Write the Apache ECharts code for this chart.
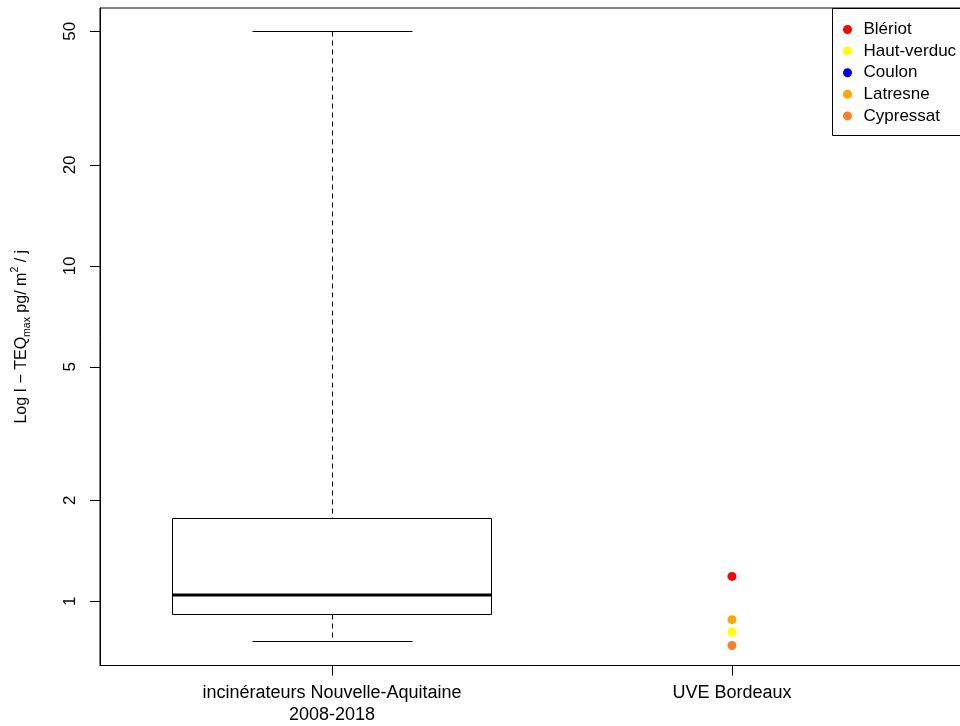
<!DOCTYPE html>
<html>
<head>
<meta charset="utf-8">
<script src="https://cdn.jsdelivr.net/npm/echarts@6/dist/echarts.min.js"></script>
<style>
  html, body { margin: 0; padding: 0; background: #fff; }
  #chart { width: 960px; height: 726px; }
</style>
</head>
<body>
<div id="chart"></div>
<script>
// Groups along the x axis (positions 1 and 2)
const categories = ['incinérateurs Nouvelle-Aquitaine\n2008-2018', 'UVE Bordeaux'];
const categoryPositions = [1, 2];

// Box summary for the regional incinerators: [position, low whisker, Q1, median, Q3, high whisker]
const boxStats = [[1, 0.76, 0.917, 1.042, 1.762, 50]];

// Individual sites measured around UVE Bordeaux (I-TEQ max, pg/m²/j)
const siteNames = ['Blériot', 'Haut-verduc', 'Coulon', 'Latresne', 'Cypressat'];
const siteValues = [1.187, 0.810, null, 0.882, 0.739];
const siteColors = ['#ff0000', '#ffff00', '#0000ff', '#ffa500', '#ff7f24'];

// Y tick labels on the log scale
const yTicks = [1, 2, 5, 10, 20, 50];

const FONT = 'Liberation Sans, Arial, sans-serif';
const chart = echarts.init(document.getElementById('chart'), null, { renderer: 'canvas' });

// snap a 1px line onto the pixel grid
function crisp(v) { return Math.round(v - 0.5) + 0.5; }

const boxSeries = {
  type: 'custom',
  name: 'box',
  data: boxStats,
  encode: { x: 0, y: [1, 2, 3, 4, 5] },
  silent: true,
  z: 2,
  renderItem: function (params, api) {
    const x = api.value(0);
    const low = api.value(1), q1 = api.value(2), med = api.value(3), q3 = api.value(4), high = api.value(5);
    const half = 0.4, capHalf = 0.2;
    const cx = crisp(api.coord([x, q1])[0]);
    const left = crisp(api.coord([x - half, q1])[0]);
    const right = crisp(api.coord([x + half, q1])[0]);
    const capL = crisp(api.coord([x - capHalf, q1])[0]);
    const capR = crisp(api.coord([x + capHalf, q1])[0]);
    const yLow = crisp(api.coord([x, low])[1]);
    const yQ1 = crisp(api.coord([x, q1])[1]);
    const yMed = Math.round(api.coord([x, med])[1]);
    const yQ3 = crisp(api.coord([x, q3])[1]);
    const yHigh = crisp(api.coord([x, high])[1]);
    const solid = { stroke: '#000', lineWidth: 1, fill: null };
    const dashed = { stroke: '#000', lineWidth: 1, lineDash: [5, 4] };
    return {
      type: 'group',
      children: [
        { type: 'line', shape: { x1: cx, y1: yHigh, x2: cx, y2: yQ3 }, style: dashed },
        { type: 'line', shape: { x1: cx, y1: yQ1, x2: cx, y2: yLow }, style: dashed },
        { type: 'line', shape: { x1: capL, y1: yHigh, x2: capR, y2: yHigh }, style: solid },
        { type: 'line', shape: { x1: capL, y1: yLow, x2: capR, y2: yLow }, style: solid },
        { type: 'rect', shape: { x: left, y: yQ3, width: right - left, height: yQ1 - yQ3 }, style: { stroke: '#000', lineWidth: 1, fill: '#fff' } },
        { type: 'line', shape: { x1: left, y1: yMed, x2: right, y2: yMed }, style: { stroke: '#000', lineWidth: 3 } }
      ]
    };
  }
};

const siteSeries = siteNames.map(function (name, i) {
  return {
    type: 'scatter',
    name: name,
    symbol: 'circle',
    symbolSize: 9,
    itemStyle: { color: siteColors[i], opacity: 1 },
    data: siteValues[i] == null ? [] : [[categoryPositions[1], siteValues[i]]],
    z: 3
  };
});

const option = {
  animation: false,
  backgroundColor: '#fff',
  textStyle: { fontFamily: FONT },
  grid: {
    left: 100, top: 8, width: 864, height: 657.5,
    outerBoundsMode: 'none',
    containLabel: false,
    show: true, borderColor: '#000', borderWidth: 1, backgroundColor: 'transparent'
  },
  // frame of the key box, which runs past the right edge like the plot region
  graphic: [{
    type: 'rect',
    left: 832, top: 8,
    shape: { x: 0, y: 0, width: 134, height: 127 },
    style: { fill: '#fff', stroke: '#000', lineWidth: 1 },
    z: 5
  }],
  legend: {
    orient: 'vertical',
    left: 839, top: 8,
    padding: [13, 0, 12, 4],
    itemGap: 4.6,
    itemWidth: 22, itemHeight: 9,
    icon: 'circle',
    z: 10,
    textStyle: { fontSize: 17, color: '#000', fontFamily: FONT },
    data: siteNames
  },
  xAxis: {
    type: 'value',
    min: 0.42, max: 2.58,
    axisLine: { show: true, lineStyle: { color: '#000' } },
    axisTick: { show: true, length: 10, lineStyle: { color: '#000' }, customValues: categoryPositions },
    axisLabel: {
      customValues: categoryPositions,
      formatter: function (v) { return categories[categoryPositions.indexOf(v)] || ''; },
      fontSize: 18, color: '#000', lineHeight: 22, margin: 17, fontFamily: FONT
    },
    splitLine: { show: false }
  },
  yAxis: {
    type: 'log',
    logBase: 10,
    min: 0.644, max: 58.7,
    axisLine: { show: true, lineStyle: { color: '#000' } },
    axisTick: { show: true, length: 10, lineStyle: { color: '#000' }, customValues: yTicks },
    axisLabel: {
      customValues: yTicks,
      rotate: 90,
      fontSize: 17, color: '#000', margin: 21, fontFamily: FONT,
      formatter: function (v) { return String(Math.round(v)); }
    },
    splitLine: { show: false },
    minorTick: { show: false },
    name: '{a|Log I − TEQ}{sub|max}{a| pg/ m}{sup|2}{a| / j}',
    nameLocation: 'middle',
    nameRotate: 90,
    nameGap: 67,
    nameTextStyle: {
      fontFamily: FONT, color: '#000',
      rich: {
        a: { fontSize: 16, lineHeight: 23, color: '#000', fontFamily: FONT },
        sub: { fontSize: 10.5, lineHeight: 10.5, verticalAlign: 'bottom', color: '#000', fontFamily: FONT },
        sup: { fontSize: 10.5, lineHeight: 10.5, verticalAlign: 'top', color: '#000', fontFamily: FONT }
      }
    }
  },
  series: [boxSeries].concat(siteSeries)
};

chart.setOption(option);
</script>
</body>
</html>
